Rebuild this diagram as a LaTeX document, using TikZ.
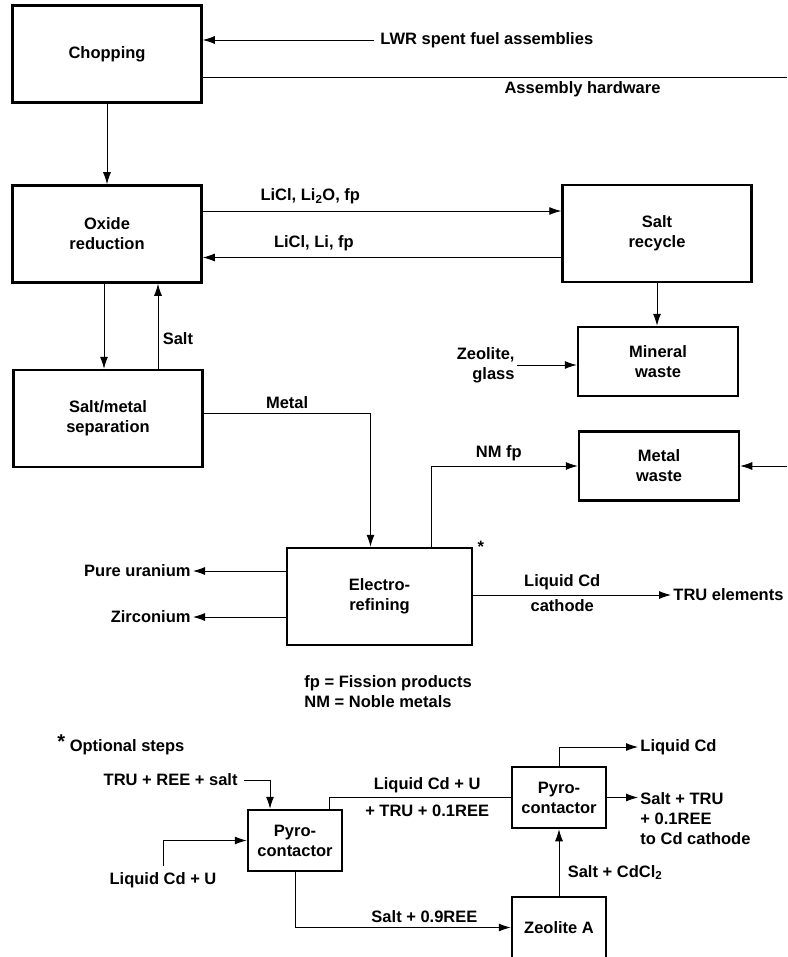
\documentclass[tikz,border=0pt]{standalone}
\usepackage{fontspec}
\setmainfont{Liberation Sans}
\usetikzlibrary{arrows.meta,positioning}

\begin{document}
\begin{tikzpicture}[>={Latex[length=12pt,width=8pt]}, x=1pt, y=-1pt, line width=.9pt,
    font=\fontsize{16.5}{20}\selectfont\bfseries,
    proc/.style={draw, line width=2.5pt, align=center, inner sep=0pt},
    pbig/.style={proc, minimum width=189pt, minimum height=97pt},
    pmid/.style={proc, minimum width=160pt, minimum height=69pt},
    psmall/.style={proc, minimum width=94pt, minimum height=61pt},
    lbl/.style={inner sep=2pt, align=center}]
  \useasboundingbox (0,0) rectangle (787,957);
  % process boxes
  \node[pbig] (chop) at (107,54) {Chopping};
  \node[pbig] (oxide) at (107,234) {Oxide\\reduction};
  \node[pbig] (recycle) at (657,233.5) {Salt\\recycle};
  \node[pbig] (sep) at (108,418.5) {Salt/metal\\separation};
  \node[pmid] (mineral) at (658,361.5) {Mineral\\waste};
  \node[pmid] (metalw) at (659,466) {Metal\\waste};
  \node[pbig, minimum width=185pt] (refine) at (379.5,596.5) {Electro-\\refining};
  \node[psmall] (pyro1) at (295,840.5) {Pyro-\\contactor};
  \node[psmall] (pyro2) at (559,797.5) {Pyro-\\contactor};
  \node[psmall] (zeoa) at (559,927.5) {Zeolite A};

  % chopping
  \node[lbl, anchor=west] (lwr) at (378,40) {LWR spent fuel assemblies};
  \draw[->] ([xshift=-4pt]lwr.west) -- (lwr -| chop.east);
  \coordinate (hwend) at (787,77);
  \draw (chop.east |- hwend) -- (hwend) node[pos=.65, below=1pt] {Assembly hardware};
  \draw[->] (chop) -- (oxide);

  % salt loop
  \draw[->] ([yshift=23pt]oxide.east) -- ([yshift=23pt]oxide.east -| recycle.west)
    node[pos=.3, above=3pt] {LiCl, Li\textsubscript{2}O, fp};
  \draw[->] ([yshift=-24pt]recycle.west) -- ([yshift=-24pt]recycle.west -| oxide.east)
    node[pos=.69, above=3pt] {LiCl, Li, fp};
  \draw[->] (recycle.south) -- (recycle.south |- mineral.north);
  \node[lbl, align=right, anchor=east] (zg) at (517,365) {Zeolite,\\glass};
  \draw[->] (zg) -- (zg -| mineral.west);
  \draw[->] ([xshift=-3pt]oxide.south) -- ([xshift=-3pt]oxide.south |- sep.north);
  \draw[->] ([xshift=51pt]oxide.south |- sep.north) -- ([xshift=51pt]oxide.south)
    node[pos=.35, right=1pt] {Salt};

  % electrorefining
  \draw[->] ([yshift=5pt]sep.east) -| ([xshift=-9pt]refine.north)
    node[pos=.25, above=1pt] {Metal};
  \draw[->] ([xshift=52pt]refine.north) |- (metalw.west)
    node[pos=.73, above=1pt] {NM fp};
  \coordinate (mwin) at (787,466);
  \draw[->] (mwin) -- (metalw.east);
  \node[inner sep=0pt, right=4pt of refine.north east] (star) {*};
  \node[lbl, anchor=east] (pu) at (193,571) {Pure uranium};
  \draw[->] (refine.west |- pu) -- (pu);
  \node[lbl, anchor=east] (zr) at (193,617) {Zirconium};
  \draw[->] (refine.west |- zr) -- (zr);
  \node[lbl, anchor=west] (tru) at (671,595) {TRU elements};
  \draw[->] (refine.east |- tru) -- (tru)
    node[pos=.45, above=1pt] {Liquid Cd} node[pos=.45, below=1pt] {cathode};

  \node[lbl, align=left, anchor=west] (abbr) at (302,692) {fp = Fission products\\NM = Noble metals};
  \node[lbl, anchor=west] (opt) at (55,745) {\raisebox{3pt}{\fontsize{20}{20}\selectfont*} Optional steps};

  % pyrocontactors
  \node[lbl, anchor=east] (trs) at (240,780) {TRU + REE + salt};
  \draw[->] ([xshift=4pt]trs.east) -| ([xshift=-25pt]pyro1.north);
  \node[lbl] (lcu) at (163,880) {Liquid Cd + U};
  \draw[->] ([yshift=4pt]lcu.north) |- (pyro1.west);
  \draw ([xshift=34pt]pyro1.north) |- (pyro2.west)
    node[pos=.77, above=1pt] {Liquid Cd + U} node[pos=.77, below=4pt] {+ TRU + 0.1REE};
  \node[lbl, anchor=west] (lcd) at (638,747) {Liquid Cd};
  \draw[->] (pyro2) |- (lcd);
  \node[lbl, align=left, anchor=west] (stru) at (638,819) {Salt + TRU\\+ 0.1REE\\to Cd cathode};
  \draw[->] (pyro2.east) -- (pyro2.east -| stru.west);
  \draw[->] (pyro1) |- (zeoa) node[pos=.8, above=1pt] {Salt + 0.9REE};
  \draw[->] (zeoa) -- (pyro2) node[pos=.35, right=5pt] {Salt + CdCl\textsubscript{2}};
\end{tikzpicture}
\end{document}
